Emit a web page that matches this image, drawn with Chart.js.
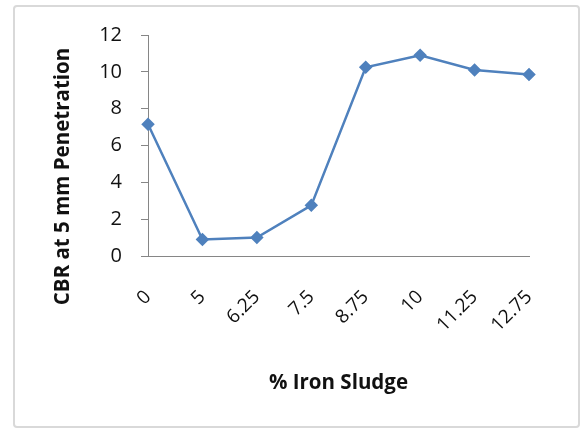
<!DOCTYPE html>
<html><head><meta charset="utf-8">
<script src="https://cdn.jsdelivr.net/npm/chart.js@4/dist/chart.umd.min.js"></script>
<style>html,body{margin:0;padding:0;background:#fff}#wrap{width:584px;height:432px;position:relative}</style>
</head><body><div id="wrap"><canvas id="c" width="584" height="432"></canvas></div>
<script>
const categories = ['0', '5', '6.25', '7.5', '8.75', '10', '11.25', '12.75'];
const cbrValues = [7.15, 0.9, 1.0, 2.75, 10.25, 10.9, 10.1, 9.85];
const yTickValues = [0, 2, 4, 6, 8, 10, 12];
const xTitle = '% Iron Sludge';
const yTitle = 'CBR at 5 mm Penetration';

const FONT = '"Open Sans", "Liberation Sans", sans-serif';
const AXIS = '#868686';
const TEXT = '#111';

const decor = {
  id: 'decor',
  beforeDraw(chart) {
    const ctx = chart.ctx;
    ctx.save();
    ctx.fillStyle = '#fff';
    ctx.fillRect(0, 0, chart.width, chart.height);
    ctx.strokeStyle = '#d9d9d9';
    ctx.lineWidth = 2;
    ctx.beginPath();
    if (ctx.roundRect) ctx.roundRect(14, 6, 565, 421, 3); else ctx.rect(14, 6, 565, 421);
    ctx.stroke();
    ctx.restore();
  },
  afterDraw(chart) {
    const ctx = chart.ctx;
    const a = chart.chartArea;
    ctx.save();
    ctx.translate(a.left - 85, (a.top + a.bottom) / 2 + 31);
    ctx.rotate(-Math.PI / 2);
    ctx.font = 'bold 20.5px ' + FONT;
    ctx.fillStyle = TEXT;
    ctx.textAlign = 'center';
    ctx.textBaseline = 'middle';
    ctx.fillText(yTitle, 0, 0);
    ctx.restore();
  }
};

new Chart(document.getElementById('c'), {
  type: 'line',
  data: {
    labels: categories,
    datasets: [{
      data: cbrValues,
      borderColor: '#4f81bd',
      backgroundColor: '#4f81bd',
      borderWidth: 2.5,
      pointStyle: 'rectRot',
      pointRadius: 5,
      pointHoverRadius: 5,
      tension: 0,
      fill: false
    }]
  },
  options: {
    responsive: false,
    animation: false,
    devicePixelRatio: 1,
    layout: { padding: { left: 0, top: 35, right: 55, bottom: 0 } },
    plugins: { legend: { display: false }, tooltip: { enabled: false } },
    scales: {
      x: {
        type: 'category',
        offset: false,
        afterFit(s) { s.height = 176; },
        grid: { drawOnChartArea: false, drawTicks: false, color: AXIS },
        border: { color: AXIS, width: 1 },
        ticks: { minRotation: 45, maxRotation: 45, padding: 30, color: TEXT, font: { family: FONT, size: 19 } },
        title: { display: true, text: xTitle, color: TEXT, font: { family: FONT, size: 20.5, weight: 'bold' }, padding: { top: 0, bottom: 37 } }
      },
      y: {
        min: 0, max: 12,
        afterFit(s) { s.width = 148; },
        afterBuildTicks(s) { s.ticks = yTickValues.map(v => ({ value: v })); },
        grid: { drawOnChartArea: false, drawTicks: true, tickLength: 7, color: AXIS },
        border: { color: AXIS, width: 1 },
        ticks: { padding: 19, color: TEXT, font: { family: FONT, size: 20 } }
      }
    }
  },
  plugins: [decor]
});
</script></body></html>
